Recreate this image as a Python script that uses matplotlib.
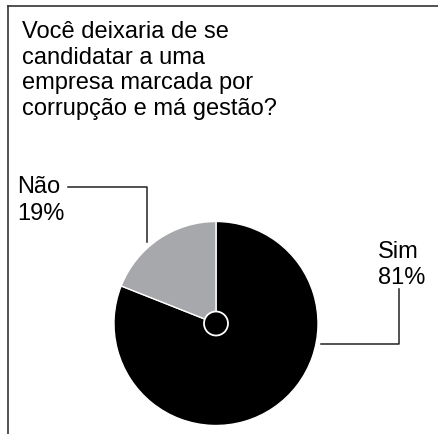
import matplotlib
matplotlib.use('Agg')
import matplotlib.pyplot as plt
from matplotlib.patches import Circle

# data
title_lines = ['Você deixaria de se', 'candidatar a uma',
               'empresa marcada por', 'corrupção e má gestão?']
labels = ['Sim', 'Não']
values = [81, 19]
colors = ['#000000', '#a7a8ab']

W, H = 438, 434
plt.rcParams['font.family'] = ['Liberation Sans', 'DejaVu Sans']

fig = plt.figure(figsize=(W / 100, H / 100), dpi=100)
ax = fig.add_axes([0, 0, 1, 1])

# pie, in pixel coordinates (y up)
cx, cy, r = 216, H - 323.5, 102
ax.pie(values, colors=colors, startangle=90, counterclock=False,
       center=(cx, cy), radius=r, frame=True,
       wedgeprops=dict(edgecolor='white', linewidth=1))
ax.add_patch(Circle((cx, cy), 12, facecolor='black', edgecolor='white', lw=1.3, zorder=5))

ax.set_xlim(0, W)
ax.set_ylim(0, H)
ax.set_aspect('equal')
ax.axis('off')

# frame (left and top)
ax.plot([7.5, 7.5], [0, H - 6], color='#333333', lw=1.2)
ax.plot([7.5, W], [H - 6, H - 6], color='#333333', lw=1.2)

fs = 17
for i, line in enumerate(title_lines):
    ax.text(22, H - (37.5 + 26 * i), line, fontsize=fs, va='baseline', ha='left')

# labels with leader lines
ax.text(17, H - 193, labels[1], fontsize=fs, va='baseline')
ax.text(17, H - 220, f'{values[1]}%', fontsize=fs, va='baseline')
ax.plot([68, 147, 147], [H - 187, H - 187, H - 242], color='#222222', lw=1.1)

ax.text(378, H - 258, labels[0], fontsize=fs, va='baseline')
ax.text(378, H - 284, f'{values[0]}%', fontsize=fs, va='baseline')
ax.plot([321, 399, 399], [H - 344, H - 344, H - 289], color='#222222', lw=1.1)

fig.savefig('out.png', dpi=100)
